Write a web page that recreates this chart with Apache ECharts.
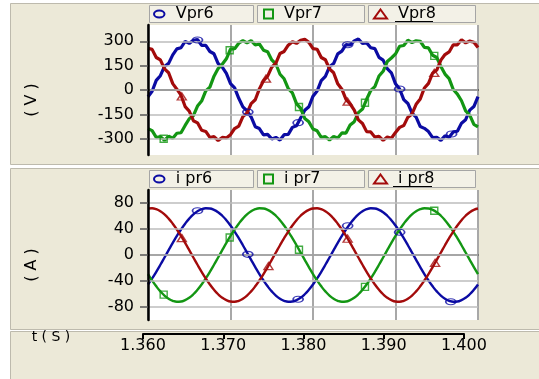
<!DOCTYPE html>
<html><head><meta charset="utf-8">
<script src="https://cdn.jsdelivr.net/npm/echarts@6/dist/echarts.min.js"></script>
<style>html,body{margin:0;padding:0;background:#fff;}#c{width:539px;height:379px;}</style>
</head><body><div id="c"></div>
<script>
// ---- data ----
const times = [
1.36,1.3605,1.361,1.3615,1.362,1.3625,1.363,1.3635,1.364,1.3645,
1.365,1.3655,1.366,1.3665,1.367,1.3675,1.368,1.3685,1.369,1.3695,
1.37,1.3705,1.371,1.3715,1.372,1.3725,1.373,1.3735,1.374,1.3745,
1.375,1.3755,1.376,1.3765,1.377,1.3775,1.378,1.3785,1.379,1.3795,
1.38,1.3805,1.381,1.3815,1.382,1.3825,1.383,1.3835,1.384,1.3845,
1.385,1.3855,1.386,1.3865,1.387,1.3875,1.388,1.3885,1.389,1.3895,
1.39,1.3905,1.391,1.3915,1.392,1.3925,1.393,1.3935,1.394,1.3945,
1.395,1.3955,1.396,1.3965,1.397,1.3975,1.398,1.3985,1.399,1.3995,
1.4];
const vpr6 = [
-41,-8,59,88,145,164,216,253,260,299,
287,306,311,275,275,237,223,163,141,102,
39,13,-51,-104,-129,-166,-226,-237,-276,-273,
-301,-292,-308,-275,-273,-230,-220,-172,-125,-103,
-38,-6,58,84,143,163,222,239,279,277,
302,314,286,290,260,255,201,184,131,106,
38,6,-59,-83,-142,-167,-225,-236,-256,-293,
-291,-310,-282,-291,-258,-254,-204,-183,-124,-102,
-41];
const vpr7 = [
-238,-250,-292,-287,-309,-285,-297,-266,-263,-218,
-177,-158,-99,-68,-5,18,85,132,158,192,
252,254,288,304,290,304,277,283,245,235,
185,160,97,69,8,-18,-84,-113,-175,-196,
-240,-251,-291,-287,-308,-286,-295,-264,-265,-216,
-195,-139,-117,-57,-3,21,86,115,175,197,
222,269,274,306,292,303,300,262,259,214,
200,145,98,70,3,-25,-66,-129,-154,-212,
-227];
const vpr8 = [
257,250,200,185,130,106,39,5,-32,-102,
-130,-189,-202,-248,-255,-292,-287,-311,-292,-295,
-275,-237,-222,-164,-142,-84,-60,7,57,85,
141,165,225,237,276,297,287,306,312,293,
255,251,200,186,130,106,38,5,-58,-86,
-124,-184,-206,-256,-258,-290,-285,-310,-289,-297,
-261,-230,-219,-167,-147,-88,-55,12,41,103,
123,184,218,234,278,278,309,290,301,294,
261];
const ipr6 = [
-45.3,-36.0,-25.8,-15.0,-3.8,7.5,18.6,29.3,39.2,48.2,
56.0,62.4,67.2,70.4,71.9,71.6,69.5,65.8,60.4,53.5,
45.3,36.0,25.8,15.0,3.8,-7.5,-18.6,-29.3,-39.2,-48.2,
-56.0,-62.4,-67.2,-70.4,-71.9,-71.6,-69.5,-65.8,-60.4,-53.5,
-45.3,-36.0,-25.8,-15.0,-3.8,7.5,18.6,29.3,39.2,48.2,
56.0,62.4,67.2,70.4,71.9,71.6,69.5,65.8,60.4,53.5,
45.3,36.0,25.8,15.0,3.8,-7.5,-18.6,-29.3,-39.2,-48.2,
-56.0,-62.4,-67.2,-70.4,-71.9,-71.6,-69.5,-65.8,-60.4,-53.5,
-45.3];
const ipr7 = [
-29.3,-39.2,-48.2,-56.0,-62.4,-67.2,-70.4,-71.9,-71.6,-69.5,
-65.8,-60.4,-53.5,-45.3,-36.0,-25.8,-15.0,-3.8,7.5,18.6,
29.3,39.2,48.2,56.0,62.4,67.2,70.4,71.9,71.6,69.5,
65.8,60.4,53.5,45.3,36.0,25.8,15.0,3.8,-7.5,-18.6,
-29.3,-39.2,-48.2,-56.0,-62.4,-67.2,-70.4,-71.9,-71.6,-69.5,
-65.8,-60.4,-53.5,-45.3,-36.0,-25.8,-15.0,-3.8,7.5,18.6,
29.3,39.2,48.2,56.0,62.4,67.2,70.4,71.9,71.6,69.5,
65.8,60.4,53.5,45.3,36.0,25.8,15.0,3.8,-7.5,-18.6,
-29.3];
const ipr8 = [
71.6,71.9,70.4,67.2,62.4,56.0,48.2,39.2,29.3,18.6,
7.5,-3.8,-15.0,-25.8,-36.0,-45.3,-53.5,-60.4,-65.8,-69.5,
-71.6,-71.9,-70.4,-67.2,-62.4,-56.0,-48.2,-39.2,-29.3,-18.6,
-7.5,3.8,15.0,25.8,36.0,45.3,53.5,60.4,65.8,69.5,
71.6,71.9,70.4,67.2,62.4,56.0,48.2,39.2,29.3,18.6,
7.5,-3.8,-15.0,-25.8,-36.0,-45.3,-53.5,-60.4,-65.8,-69.5,
-71.6,-71.9,-70.4,-67.2,-62.4,-56.0,-48.2,-39.2,-29.3,-18.6,
-7.5,3.8,15.0,25.8,36.0,45.3,53.5,60.4,65.8,69.5,
71.6];
const vpr6Marks = [[1.366,308],[1.3721,-136],[1.3782,-201],[1.3842,278],[1.3905,6],[1.3968,-271]];
const vpr7Marks = [[1.3619,-300],[1.3699,245],[1.3783,-105],[1.3863,-78],[1.3947,210]];
const vpr8Marks = [[1.3641,-40],[1.3743,70],[1.3842,-72],[1.3947,105]];
const ipr6Marks = [[1.366,68],[1.3721,1],[1.3782,-68],[1.3842,45],[1.3905,35],[1.3967,-72]];
const ipr7Marks = [[1.3619,-61],[1.3699,27],[1.3783,8],[1.3863,-49],[1.3947,68]];
const ipr8Marks = [[1.3641,26],[1.3746,-17],[1.3842,25],[1.3948,-12]];
const vTicks = [-300,-150,0,150,300];
const iTicks = [-80,-40,0,40,80];
const tMin = 1.36, tMax = 1.40, tStep = 0.01;

// ---- styles ----
const BLUE='#0B0BA3', GREEN='#139613', RED='#A30B0B';
const FONT='DejaVu Sans';
const BOXFILL='#F3F1E7';
const ELLIPSE='path://M0,4A6,4,0,1,1,12,4A6,4,0,1,1,0,4Z';
const pairs = arr => times.map((t,i)=>[t,arr[i]]);

function legendFor(name, icon, color, left, top, w, h){
  return {
    data:[{name, icon, itemStyle:{color:BOXFILL, borderColor:color, borderWidth:2}}],
    left, top, padding:0, itemWidth:w, itemHeight:h, selectedMode:false,
    textStyle:{fontFamily:FONT, fontSize:16, color:'#000', padding:[0,0,0,6]}
  };
}
function xAxisPanel(idx, zeroColor){
  return {
    gridIndex:idx, type:'value', min:tMin, max:tMax, interval:tStep,
    axisLabel:{show:false}, axisTick:{show:false},
    axisLine:{show:true, onZero:true, lineStyle:{color:zeroColor, width:1.5}},
    splitLine:{show:true, lineStyle:{color:'#A8A8A8', width:2}}
  };
}
function yAxisPanel(idx, min, max, ticks){
  return {
    gridIndex:idx, type:'value', min, max, z:3,
    axisLine:{show:true, lineStyle:{color:'#000', width:2.5}},
    axisTick:{show:true, length:8, customValues:ticks, lineStyle:{color:'#555', width:1.5}},
    axisLabel:{show:true, customValues:ticks, margin:14, color:'#000', fontFamily:FONT, fontSize:16},
    splitLine:{show:true, lineStyle:{color:'#BDBDBD', width:1.5}}
  };
}
function lineS(name, xi, arr, color, width, smooth){
  return {name, type:'line', xAxisIndex:xi, yAxisIndex:xi, data:pairs(arr), showSymbol:false,
    smooth, lineStyle:{color, width}, itemStyle:{color}, animation:false, z:2};
}
function markS(xi, data, symbol, size, color){
  return {type:'scatter', xAxisIndex:xi, yAxisIndex:xi, data, symbol, symbolSize:size,
    itemStyle:{color:'rgba(255,255,255,0)', borderColor:color, borderWidth:1.4}, animation:false, z:3, silent:true};
}

const chart = echarts.init(document.getElementById('c'), null, {renderer:'canvas'});
chart.setOption({
  animation:false,
  grid:[
    {left:148, top:25, width:330, height:130, show:true, backgroundColor:'#fff', borderWidth:0},
    {left:148, top:190, width:330, height:130, show:true, backgroundColor:'#fff', borderWidth:0},
    {left:143, top:333, width:321, height:1, show:false}
  ],
  xAxis:[
    xAxisPanel(0,'#000'),
    xAxisPanel(1,'#333'),
    {gridIndex:2, type:'value', min:tMin, max:tMax, interval:tStep, position:'bottom',
     axisLine:{show:true, lineStyle:{color:'#000', width:2}},
     axisTick:{show:true, length:5, lineStyle:{color:'#000', width:2}},
     axisLabel:{show:true, margin:4, color:'#000', fontFamily:FONT, fontSize:16, formatter:v=>v.toFixed(3)},
     splitLine:{show:false}}
  ],
  yAxis:[
    yAxisPanel(0,-400,400,vTicks),
    yAxisPanel(1,-100,100,iTicks),
    {gridIndex:2, type:'value', min:0, max:1, show:false}
  ],
  legend:[
    legendFor('Vpr6', ELLIPSE, BLUE, 153, 6, 11, 7),
    legendFor('Vpr7', 'rect', GREEN, 263, 6, 9, 9),
    legendFor('Vpr8', 'triangle', RED, 373, 6, 13, 9),
    legendFor('i pr6', ELLIPSE, BLUE, 153, 171, 11, 7),
    legendFor('i pr7', 'rect', GREEN, 263, 171, 9, 9),
    legendFor('i pr8', 'triangle', RED, 373, 171, 13, 9)
  ],
  graphic:[
    {type:'rect', z:-10, shape:{x:10.5,y:3.5,width:529,height:161}, style:{fill:'#ECE9D8', stroke:'#BDBAAD', lineWidth:1}},
    {type:'rect', z:-10, shape:{x:10.5,y:168.5,width:529,height:161}, style:{fill:'#ECE9D8', stroke:'#BDBAAD', lineWidth:1}},
    {type:'rect', z:-10, shape:{x:10.5,y:331.5,width:529,height:48}, style:{fill:'#ECE9D8', stroke:'#BDBAAD', lineWidth:1}},
    {type:'rect', z:1, shape:{x:149.5,y:5.5,width:104,height:17}, style:{fill:BOXFILL, stroke:'#A5A5A5', lineWidth:1}},
    {type:'rect', z:1, shape:{x:257.5,y:5.5,width:107,height:17}, style:{fill:BOXFILL, stroke:'#A5A5A5', lineWidth:1}},
    {type:'rect', z:1, shape:{x:368.5,y:5.5,width:107,height:17}, style:{fill:BOXFILL, stroke:'#A5A5A5', lineWidth:1}},
    {type:'rect', z:1, shape:{x:149.5,y:170.5,width:104,height:17}, style:{fill:BOXFILL, stroke:'#A5A5A5', lineWidth:1}},
    {type:'rect', z:1, shape:{x:257.5,y:170.5,width:107,height:17}, style:{fill:BOXFILL, stroke:'#A5A5A5', lineWidth:1}},
    {type:'rect', z:1, shape:{x:368.5,y:170.5,width:107,height:17}, style:{fill:BOXFILL, stroke:'#A5A5A5', lineWidth:1}},
    {type:'line', z:5, shape:{x1:395,y1:21.5,x2:433,y2:21.5}, style:{stroke:'#000', lineWidth:1}},
    {type:'line', z:5, shape:{x1:393,y1:186.5,x2:432,y2:186.5}, style:{stroke:'#000', lineWidth:1}},
    {type:'text', z:5, x:32, y:100, rotation:Math.PI/2, style:{text:'( V )', fontFamily:FONT, fontSize:16, fill:'#000', align:'center', verticalAlign:'middle'}},
    {type:'text', z:5, x:32, y:265, rotation:Math.PI/2, style:{text:'( A )', fontFamily:FONT, fontSize:16, fill:'#000', align:'center', verticalAlign:'middle'}},
    {type:'text', z:5, x:51, y:337, style:{text:'t ( S )', fontFamily:FONT, fontSize:14, fill:'#000', align:'center', verticalAlign:'middle'}}
  ],
  series:[
    lineS('Vpr6',0,vpr6,BLUE,3.2,false),
    lineS('Vpr7',0,vpr7,GREEN,3.2,false),
    lineS('Vpr8',0,vpr8,RED,3.2,false),
    lineS('i pr6',1,ipr6,BLUE,2.4,true),
    lineS('i pr7',1,ipr7,GREEN,2.4,true),
    lineS('i pr8',1,ipr8,RED,2.4,true),
    markS(0,vpr6Marks,ELLIPSE,[10,6],BLUE),
    markS(0,vpr7Marks,'rect',[7,7],GREEN),
    markS(0,vpr8Marks,'triangle',[9,7],RED),
    markS(1,ipr6Marks,ELLIPSE,[10,6],BLUE),
    markS(1,ipr7Marks,'rect',[7,7],GREEN),
    markS(1,ipr8Marks,'triangle',[9,7],RED)
  ]
});
</script></body></html>
